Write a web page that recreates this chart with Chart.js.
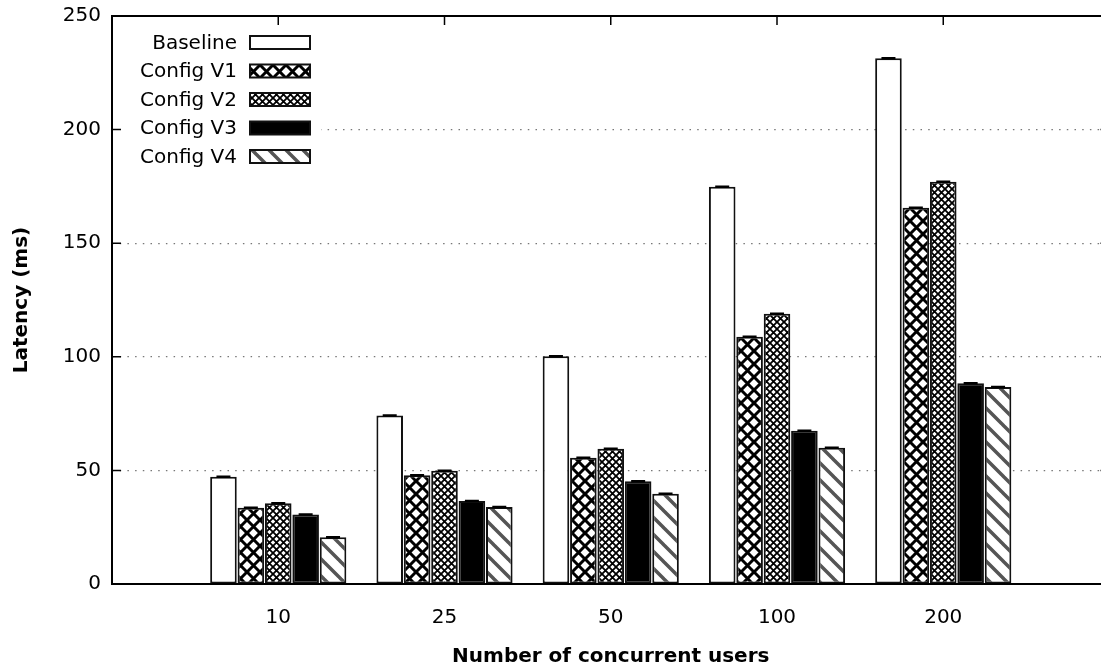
<!DOCTYPE html>
<html>
<head>
<meta charset="utf-8">
<script src="https://cdn.jsdelivr.net/npm/chart.js@4.4.1/dist/chart.umd.min.js"></script>
<style>
  html, body { margin: 0; padding: 0; background: #fff; overflow: hidden; }
  canvas { display: block; }
</style>
</head>
<body>
<canvas id="latency" width="1120" height="669"></canvas>
<script>
// Latency per load level, one array per configuration
const categories = ['10', '25', '50', '100', '200'];
const seriesNames = ['Baseline', 'Config V1', 'Config V2', 'Config V3', 'Config V4'];
const baseline = [47.2, 74.2, 100.2, 174.8, 231.4];
const configV1 = [33.6, 47.9, 55.6, 108.8, 165.6];
const configV2 = [35.5, 49.8, 59.5, 118.9, 177.0];
const configV3 = [30.6, 36.5, 45.2, 67.4, 88.4];
const configV4 = [20.6, 33.9, 39.7, 60.0, 86.7];
const yTicks = [0, 50, 100, 150, 200, 250];

const seriesValues = [baseline, configV1, configV2, configV3, configV4];
const FAMILY = '"DejaVu Sans", Verdana, sans-serif';

// ---- fill patterns ----
function tile(size, draw) {
  const c = document.createElement('canvas');
  c.width = c.height = size;
  const g = c.getContext('2d');
  g.fillStyle = '#fff';
  g.fillRect(0, 0, size, size);
  draw(g, size);
  return g.createPattern(c, 'repeat');
}
function crosshatch(size, lw) {
  return tile(size, (g, s) => {
    g.strokeStyle = '#000';
    g.lineWidth = lw;
    g.beginPath();
    g.moveTo(-1, -1); g.lineTo(s + 1, s + 1);
    g.moveTo(s + 1, -1); g.lineTo(-1, s + 1);
    g.stroke();
  });
}
const stripes = tile(17, (g, s) => {
  g.strokeStyle = '#555';
  g.lineWidth = 3.5;
  g.beginPath();
  for (const off of [-s, 0, s]) {
    g.moveTo(off - 1, -1); g.lineTo(off + s + 1, s + 1);
  }
  g.stroke();
});
const fills = ['#ffffff', crosshatch(13, 3), crosshatch(7, 1.8), '#000000', stripes];

// ---- frame, ticks, error caps and key ----
const framePlugin = {
  id: 'frame',
  beforeDatasetsDraw(chart) {
    const { ctx, chartArea: a, scales: { x, y } } = chart;
    ctx.save();
    // key backdrop keeps grid lines out of the key
    ctx.fillStyle = '#fff';
    ctx.fillRect(a.left + 1, 22, 320 - a.left, 148);
    ctx.strokeStyle = '#000';
    ctx.lineWidth = 1.5;
    ctx.beginPath();
    yTicks.forEach(v => {
      const py = y.getPixelForValue(v);
      ctx.moveTo(a.left, py); ctx.lineTo(a.left + 9, py);
      ctx.moveTo(a.right, py); ctx.lineTo(a.right - 9, py);
    });
    categories.forEach((c, i) => {
      const px = x.getPixelForValue(i);
      ctx.moveTo(px, a.top); ctx.lineTo(px, a.top + 9);
      ctx.moveTo(px, a.bottom); ctx.lineTo(px, a.bottom - 9);
    });
    ctx.stroke();
    ctx.restore();
  },
  afterDatasetsDraw(chart) {
    const { ctx, chartArea: a } = chart;
    ctx.save();
    // error-bar caps on top of each bar
    ctx.strokeStyle = '#000';
    ctx.lineWidth = 2.5;
    ctx.beginPath();
    chart.data.datasets.forEach((ds, k) => {
      chart.getDatasetMeta(k).data.forEach(bar => {
        ctx.moveTo(bar.x - 7, bar.y); ctx.lineTo(bar.x + 7, bar.y);
      });
    });
    ctx.stroke();
    // plot border
    ctx.lineWidth = 2;
    ctx.strokeRect(a.left, a.top, a.right - a.left, a.bottom - a.top);
    // key
    ctx.font = '20px ' + FAMILY;
    ctx.textAlign = 'right';
    ctx.textBaseline = 'middle';
    seriesNames.forEach((name, k) => {
      const cy = 42.5 + 28.5 * k;
      ctx.fillStyle = '#000';
      ctx.fillText(name, 237, cy + 1);
      ctx.fillStyle = fills[k];
      ctx.fillRect(249, cy - 7, 62, 14);
      ctx.strokeStyle = '#111';
      ctx.lineWidth = 2;
      ctx.strokeRect(250, cy - 6.5, 60, 13);
    });
    ctx.restore();
  }
};

new Chart(document.getElementById('latency'), {
  type: 'bar',
  data: {
    datasets: seriesValues.map((vals, k) => ({
      label: seriesNames[k],
      data: vals.map((v, i) => ({ x: i, y: v })),
      backgroundColor: fills[k],
      borderColor: '#111',
      borderWidth: 2,
      borderSkipped: false,
      categoryPercentage: 0.824,
      barPercentage: 0.97
    }))
  },
  options: {
    responsive: false,
    animation: false,
    devicePixelRatio: 1,
    layout: { padding: { top: 16, right: 10.5, left: 0, bottom: 0 } },
    plugins: { legend: { display: false }, tooltip: { enabled: false } },
    scales: {
      x: {
        type: 'linear',
        min: -1,
        max: 5,
        offset: false,
        grid: { display: false },
        border: { display: false },
        afterBuildTicks(s) { s.ticks = categories.map((c, i) => ({ value: i })); },
        afterFit(s) { s.height = 85; s.paddingLeft = 0; s.paddingRight = 0; },
        ticks: {
          callback: v => categories[v],
          font: { family: FAMILY, size: 20 },
          color: '#000',
          padding: 14,
          maxRotation: 0,
          autoSkip: false
        },
        title: {
          display: true,
          text: 'Number of concurrent users',
          font: { family: FAMILY, size: 20, weight: 'bold' },
          color: '#000',
          padding: { top: 0, bottom: 0 }
        }
      },
      y: {
        min: 0,
        max: 250,
        afterBuildTicks(s) { s.ticks = yTicks.map(v => ({ value: v })); },
        afterFit(s) { s.width = 112; s.paddingTop = 0; s.paddingBottom = 0; },
        grid: {
          color: c => (c.tick && (c.tick.value === 0 || c.tick.value === 250)) ? 'rgba(0,0,0,0)' : '#777',
          lineWidth: 1.2,
          drawTicks: false,
          borderDash: [1.5, 6.2]
        },
        border: { display: false, dash: [1.5, 6.2] },
        ticks: {
          font: { family: FAMILY, size: 20 },
          color: '#000',
          padding: 11
        },
        title: {
          display: true,
          text: 'Latency (ms)',
          font: { family: FAMILY, size: 20, weight: 'bold' },
          color: '#000',
          padding: { top: 10, bottom: 0 }
        }
      }
    }
  },
  plugins: [framePlugin]
});
</script>
</body>
</html>
